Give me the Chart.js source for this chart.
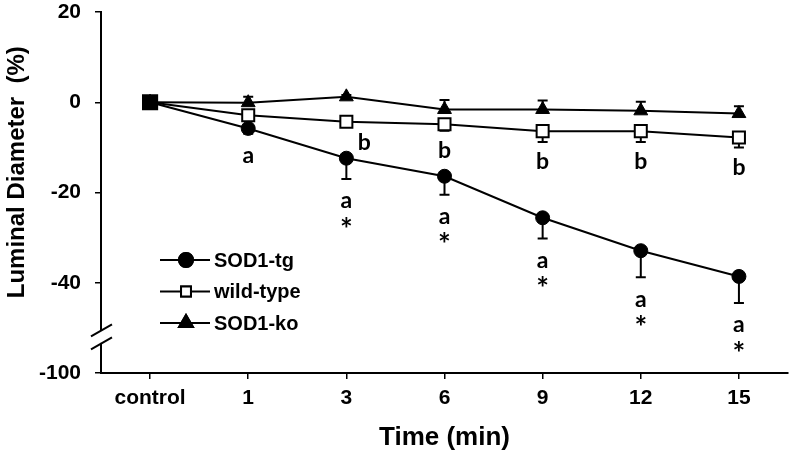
<!DOCTYPE html>
<html>
<head>
<meta charset="utf-8">
<script src="https://cdn.jsdelivr.net/npm/chart.js@4.4.1/dist/chart.umd.min.js"></script>
<style>
  html, body { margin: 0; padding: 0; background: #fff; }
  #wrap { width: 800px; height: 462px; }
</style>
</head>
<body>
<div id="wrap"><canvas id="diameterChart" width="800" height="462"></canvas></div>
<script>
// time points (min)
const timeLabels = ['control', '1', '3', '6', '9', '12', '15'];

// luminal diameter change (%)
const sodTg = [0, -5.8, -12.4, -16.4, -25.6, -32.9, -38.6];
const sodTgErr = [0, 1.2, 4.6, 4.1, 4.6, 5.9, 5.9];      // drawn downward
const wildType = [0, -2.9, -4.3, -4.9, -6.4, -6.4, -7.8];
const wildTypeErr = [0, 0.8, 0.8, 1.4, 2.4, 2.4, 2.2];  // drawn downward
const sodKo = [0, -0.1, 1.2, -1.6, -1.6, -1.9, -2.5];
const sodKoErr = [0, 1.3, 0.4, 2.1, 2.0, 2.0, 1.6];     // drawn upward

// significance marks
const tgLetters = ['', 'a', 'a', 'a', 'a', 'a', 'a'];
const tgStars = ['', '', '*', '*', '*', '*', '*'];
const wtLetters = ['', '', 'b', 'b', 'b', 'b', 'b'];

// y ticks; the lowest tick stands for -100 after the axis break
const yTicks = [20, 0, -20, -40, -60];
const yTickText = ['20', '0', '-20', '-40', '-100'];
const yTitle = 'Luminal Diameter  (%)';

const axisFont = { family: 'Liberation Sans', weight: 'bold', size: 21 };

const errorBars = {
  id: 'errorBars',
  beforeDatasetsDraw(chart) {
    const ctx = chart.ctx;
    const x = chart.scales.x, y = chart.scales.y;
    const sets = [[sodTg, sodTgErr, -1], [wildType, wildTypeErr, -1], [sodKo, sodKoErr, 1]];
    ctx.save();
    ctx.strokeStyle = '#000';
    ctx.lineWidth = 2;
    sets.forEach(([vals, errs, dir]) => {
      vals.forEach((v, i) => {
        if (!errs[i]) return;
        const px = x.getPixelForValue(i);
        const y0 = y.getPixelForValue(v);
        const y1 = y.getPixelForValue(v + dir * errs[i]);
        ctx.beginPath();
        ctx.moveTo(px, y0); ctx.lineTo(px, y1);
        ctx.moveTo(px - 5, y1); ctx.lineTo(px + 5, y1);
        ctx.stroke();
      });
    });
    ctx.restore();
  }
};

const marks = {
  id: 'marks',
  afterDatasetsDraw(chart) {
    const ctx = chart.ctx;
    const x = chart.scales.x, y = chart.scales.y;
    ctx.save();
    ctx.fillStyle = '#000';
    ctx.textAlign = 'center';
    ctx.textBaseline = 'middle';
    timeLabels.forEach((t, i) => {
      const px = x.getPixelForValue(i);
      const tgEnd = y.getPixelForValue(sodTg[i] - sodTgErr[i]);
      ctx.font = 'bold 23px Lato';
      if (tgLetters[i]) ctx.fillText(tgLetters[i], px, tgEnd + 22);
      if (wtLetters[i]) {
        const wtEnd = y.getPixelForValue(wildType[i] - wildTypeErr[i]);
        if (i === 2) ctx.fillText(wtLetters[i], px + 18, wtEnd + 17);
        else ctx.fillText(wtLetters[i], px, wtEnd + 20);
      }
      ctx.font = 'bold 30px Lato';
      if (tgStars[i]) ctx.fillText(tgStars[i], px, tgEnd + 51);
    });
    ctx.restore();
  }
};

// y title sits a bit above the axis centre in the original
const yAxisTitle = {
  id: 'yAxisTitle',
  afterDraw(chart) {
    const ctx = chart.ctx;
    const y = chart.scales.y;
    ctx.save();
    ctx.translate(17, y.getPixelForValue(-15.5));
    ctx.rotate(-Math.PI / 2);
    ctx.fillStyle = '#000';
    ctx.font = 'bold 24px "Liberation Sans"';
    ctx.textAlign = 'center';
    ctx.textBaseline = 'middle';
    ctx.fillText(yTitle, 0, 0);
    ctx.restore();
  }
};

const axisBreak = {
  id: 'axisBreak',
  afterDraw(chart) {
    const ctx = chart.ctx;
    const y = chart.scales.y;
    const ax = chart.chartArea.left;
    const mid = y.getPixelForValue(-52);
    ctx.save();
    ctx.fillStyle = '#fff';
    ctx.fillRect(ax - 4, mid - 6, 8, 12);
    ctx.strokeStyle = '#000';
    ctx.lineWidth = 2;
    [-6.5, 6.5].forEach(d => {
      ctx.beginPath();
      ctx.moveTo(ax - 10, mid + d + 6);
      ctx.lineTo(ax + 11, mid + d - 6);
      ctx.stroke();
    });
    ctx.restore();
  }
};

const insideLegend = {
  id: 'insideLegend',
  afterDraw(chart) {
    const ctx = chart.ctx;
    const left = chart.chartArea.left;
    const top = chart.chartArea.top;
    const rows = [248, 279.5, 311];
    ctx.save();
    chart.data.datasets.forEach((ds, k) => {
      const yy = top + rows[k];
      ctx.strokeStyle = '#000';
      ctx.lineWidth = 2;
      ctx.beginPath();
      ctx.moveTo(left + 59, yy); ctx.lineTo(left + 109, yy);
      ctx.stroke();
      ctx.fillStyle = ds.legendFill;
      Chart.helpers.drawPoint(ctx, {
        pointStyle: ds.pointStyle, radius: ds.legendRadius, rotation: 0, borderWidth: 2
      }, left + 85, yy);
      ctx.fill();
      ctx.stroke();
      ctx.fillStyle = '#000';
      ctx.font = 'bold 20px "Liberation Sans"';
      ctx.textAlign = 'left';
      ctx.textBaseline = 'middle';
      ctx.fillText(ds.label, left + 113, yy + 1);
    });
    ctx.restore();
  }
};

new Chart(document.getElementById('diameterChart'), {
  type: 'line',
  data: {
    labels: timeLabels,
    datasets: [
      {
        label: 'SOD1-tg', data: sodTg, pointStyle: 'circle', pointRadius: 7,
        backgroundColor: '#000', borderColor: '#000', borderWidth: 2,
        pointBorderWidth: 1, legendFill: '#000', legendRadius: 7, order: 2
      },
      {
        label: 'wild-type', data: wildType, pointStyle: 'rect',
        pointRadius: [10, 8.5, 8.5, 8.5, 8.5, 8.5, 8.5],
        pointBackgroundColor: ['#000', '#fff', '#fff', '#fff', '#fff', '#fff', '#fff'],
        backgroundColor: '#fff', borderColor: '#000', borderWidth: 2,
        pointBorderWidth: 2, legendFill: '#fff', legendRadius: 7, order: 3
      },
      {
        label: 'SOD1-ko', data: sodKo, pointStyle: 'triangle', pointRadius: 8,
        backgroundColor: '#000', borderColor: '#000', borderWidth: 2,
        pointBorderWidth: 1, legendFill: '#000', legendRadius: 8, order: 1
      }
    ]
  },
  options: {
    responsive: false,
    animation: false,
    layout: { padding: { top: 12, right: 10, left: 0, bottom: 0 } },
    plugins: { legend: { display: false }, tooltip: { enabled: false } },
    elements: { line: { tension: 0 } },
    scales: {
      x: {
        offset: true,
        grid: { display: true, drawOnChartArea: false, drawTicks: true, tickLength: 6, color: '#000', lineWidth: 1.5 },
        border: { display: true, color: '#000', width: 2 },
        ticks: { color: '#000', font: axisFont, padding: 7, maxRotation: 0 },
        title: { display: true, text: 'Time (min)', color: '#000',
                 font: { family: 'Liberation Sans', weight: 'bold', size: 26 }, padding: { top: 0, bottom: 9 } },
        afterFit(s) { s.height = 89; }
      },
      y: {
        min: -60, max: 20,
        afterBuildTicks(s) { s.ticks = yTicks.map(v => ({ value: v })); },
        grid: { display: true, drawOnChartArea: false, drawTicks: true, tickLength: 6, color: '#000', lineWidth: 1.5 },
        border: { display: true, color: '#000', width: 2 },
        ticks: {
          color: '#000', font: axisFont, padding: 14,
          callback: v => yTickText[yTicks.indexOf(v)]
        },
        title: { display: false },
        afterFit(s) { s.width = 101; s.paddingTop = 0; s.paddingBottom = 0; }
      }
    }
  },
  plugins: [errorBars, marks, axisBreak, insideLegend, yAxisTitle]
});
</script>
</body>
</html>
